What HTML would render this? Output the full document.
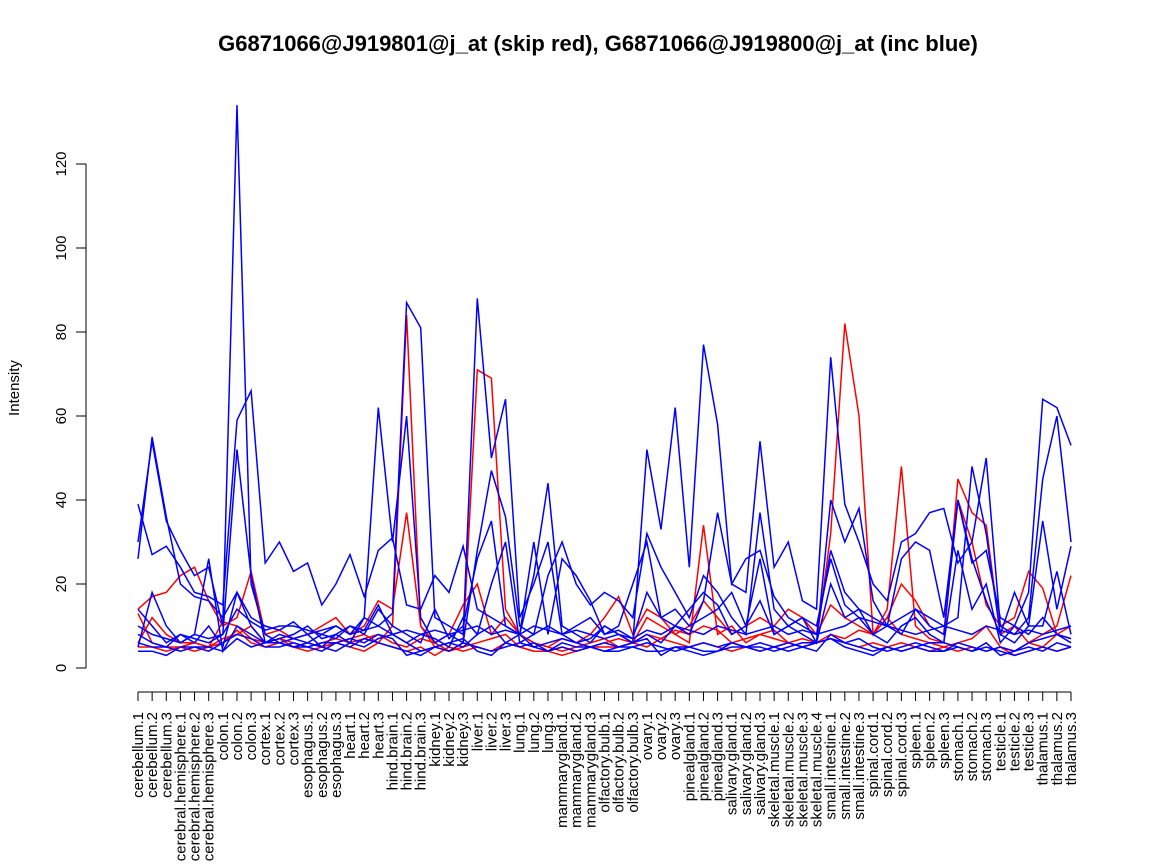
<!DOCTYPE html>
<html><head><meta charset="utf-8"><style>
body{margin:0;background:#fff}
svg{display:block;font-family:"Liberation Sans",sans-serif}
</style></head><body>
<svg id="chart" width="1152" height="864">
<text x="598" y="51" text-anchor="middle" font-size="22" font-weight="bold">G6871066@J919801@j_at (skip red), G6871066@J919800@j_at (inc blue)</text>
<text transform="translate(19,388) rotate(-90)" text-anchor="middle" font-size="15">Intensity</text>
<g id="yaxis"></g>
<g id="xaxis"></g>
<g id="red"></g>
<g id="blue"></g>
</svg>
<script>
const categories=["cerebellum.1","cerebellum.2","cerebellum.3","cerebral.hemisphere.1","cerebral.hemisphere.2","cerebral.hemisphere.3","colon.1","colon.2","colon.3","cortex.1","cortex.2","cortex.3","esophagus.1","esophagus.2","esophagus.3","heart.1","heart.2","heart.3","hind.brain.1","hind.brain.2","hind.brain.3","kidney.1","kidney.2","kidney.3","liver.1","liver.2","liver.3","lung.1","lung.2","lung.3","mammarygland.1","mammarygland.2","mammarygland.3","olfactory.bulb.1","olfactory.bulb.2","olfactory.bulb.3","ovary.1","ovary.2","ovary.3","pinealgland.1","pinealgland.2","pinealgland.3","salivary.gland.1","salivary.gland.2","salivary.gland.3","skeletal.muscle.1","skeletal.muscle.2","skeletal.muscle.3","skeletal.muscle.4","small.intestine.1","small.intestine.2","small.intestine.3","spinal.cord.1","spinal.cord.2","spinal.cord.3","spleen.1","spleen.2","spleen.3","stomach.1","stomach.2","stomach.3","testicle.1","testicle.2","testicle.3","thalamus.1","thalamus.2","thalamus.3"];
const yTicks=[0,20,40,60,80,100,120];
const red1=[13,6,5,5,6,5,7,8,10,6,7,5,6,5,6,7,8,6,10,84,10,5,4,6,71,69,14,8,6,5,4,5,6,7,5,6,12,10,8,6,34,8,10,6,8,7,6,5,6,32,82,60,8,14,48,10,7,6,45,37,34,8,10,6,8,10,22];
const red2=[14,17,18,22,24,16,10,12,23,8,9,7,8,10,12,8,10,16,14,37,10,6,8,15,20,8,12,8,6,5,7,6,8,12,17,8,14,12,8,10,16,12,8,10,12,10,14,12,8,15,12,10,8,12,20,16,10,8,40,30,15,10,12,23,19,8,10];
const red3=[6,12,8,6,6,5,11,10,7,6,7,6,5,6,7,6,7,8,6,5,7,6,4,5,6,7,8,5,4,4,5,4,5,6,7,6,8,7,9,8,10,9,6,7,8,9,6,7,6,8,7,9,8,12,8,7,6,5,6,7,10,5,4,6,5,8,7];
const red4=[5,5,4,5,4,5,6,9,6,5,6,5,4,5,6,5,4,6,5,4,5,3,5,4,5,4,6,5,4,4,3,4,5,5,5,6,5,7,6,5,6,5,4,5,4,5,6,5,6,7,6,5,6,5,6,5,4,5,4,5,4,5,3,4,5,4,5];
const blue1=[30,54,35,28,22,24,10,134,20,8,6,5,6,5,4,6,5,7,8,6,4,5,6,5,8,10,6,5,6,4,5,4,5,6,5,5,6,5,4,5,6,5,6,5,4,5,6,5,4,8,6,7,5,4,5,6,5,4,6,5,4,5,4,6,7,8,6];
const blue2=[39,27,29,24,18,17,15,59,66,25,30,23,25,15,20,27,17,28,31,15,14,22,18,29,14,12,10,8,22,44,10,8,6,10,8,6,52,33,62,24,77,58,20,18,54,24,30,16,14,74,39,30,20,16,30,32,37,38,25,30,50,10,8,12,45,60,30];
const blue3=[26,55,36,20,17,16,12,18,12,10,9,11,8,9,10,8,12,10,13,87,81,12,10,8,88,50,64,12,20,30,8,10,12,8,9,7,18,12,14,10,12,14,18,10,16,8,10,12,10,26,15,12,8,10,12,14,10,8,40,25,28,12,10,18,64,62,53];
const blue4=[14,10,6,8,7,6,8,52,22,6,7,8,10,7,8,6,12,62,30,60,12,6,8,6,28,47,36,10,8,22,30,20,15,18,16,12,32,24,18,12,22,18,12,8,37,14,10,8,6,40,30,38,16,10,8,14,12,10,12,48,32,8,6,10,35,14,29];
const blue5=[5,18,10,6,8,26,4,10,8,6,8,7,6,8,7,10,8,14,10,8,6,14,7,10,26,35,10,8,30,8,26,22,16,8,10,20,30,12,10,8,16,37,20,26,28,17,12,10,8,28,18,14,12,10,26,30,28,12,40,26,16,8,18,10,10,23,8];
const blue6=[6,5,5,4,5,4,6,8,7,5,5,6,5,4,6,5,7,6,5,4,3,5,4,6,5,4,5,6,5,4,6,5,5,4,4,5,4,4,5,5,4,4,5,5,5,4,5,6,6,7,6,5,4,5,4,5,4,4,5,4,5,4,3,4,5,4,5];
const blue7=[10,8,7,6,8,7,8,14,11,9,10,10,9,8,10,8,9,10,8,9,8,9,8,9,10,8,9,8,10,9,8,9,8,7,8,7,9,8,10,9,8,10,9,8,9,10,8,9,8,9,10,12,11,10,9,8,9,10,9,8,10,9,8,9,8,9,10];
const blue8=[4,4,3,5,5,5,4,7,5,6,6,5,5,6,6,7,6,8,7,3,4,5,6,7,4,3,6,8,5,6,7,6,5,4,5,6,7,3,5,4,3,4,6,5,6,5,4,5,6,7,5,4,3,5,4,5,6,6,5,4,6,3,4,5,4,6,5];
const blue9=[8,6,5,8,6,10,5,18,10,6,6,7,8,5,8,10,9,15,8,6,8,7,5,12,8,20,30,6,8,10,8,6,7,10,8,6,8,6,10,14,18,15,8,10,26,8,10,12,6,20,12,14,8,6,10,12,8,6,28,14,20,6,10,8,12,8,7];
const redSeries=[red1,red2,red3,red4];
const blueSeries=[blue1,blue2,blue3,blue4,blue5,blue6,blue7,blue8,blue9];

const NS="http://www.w3.org/2000/svg";
const x0=138,x1=1071,yBase=668,yPer=4.2;
const xs=i=>x0+i*(x1-x0)/(categories.length-1);
const ys=v=>yBase-v*yPer;
function mk(tag,attrs,parent){const e=document.createElementNS(NS,tag);for(const k in attrs)e.setAttribute(k,attrs[k]);parent.appendChild(e);return e;}

const ya=document.getElementById('yaxis');
let l=mk('line',{x1:86,x2:86,y1:ys(0),y2:ys(120),stroke:'#000','stroke-width':1},ya);


yTicks.forEach(t=>{
  const tk=mk('line',{x1:76,x2:86,y1:ys(t),y2:ys(t),stroke:'#000'},ya);
  
  
  const tx=mk('text',{transform:`translate(66,${ys(t)}) rotate(-90)`,'text-anchor':'middle','font-size':15},ya);
  tx.textContent=t;
  
  
});
const xa=document.getElementById('xaxis');
l=mk('line',{x1:x0,x2:x1,y1:692,y2:692,stroke:'#000'},xa);


categories.forEach((c,i)=>{
  const tk=mk('line',{x1:xs(i),x2:xs(i),y1:692,y2:701,stroke:'#000'},xa);
  
  
  const tx=mk('text',{transform:`translate(${xs(i)+5},712) rotate(-90)`,'text-anchor':'end','font-size':15},xa);
  tx.textContent=c;
  
  
});
function draw(series,gid,color,name){
  const g=document.getElementById(gid);
  series.forEach(s=>{
    const p=mk('polyline',{points:s.map((v,i)=>xs(i).toFixed(1)+','+ys(v).toFixed(1)).join(' '),fill:'none',stroke:color,'stroke-width':1.5},g);
    
    
  });
}
draw(redSeries,'red','#ff0000','red-series-line');
draw(blueSeries,'blue','#0000ff','blue-series-line');
</script>
</body></html>
